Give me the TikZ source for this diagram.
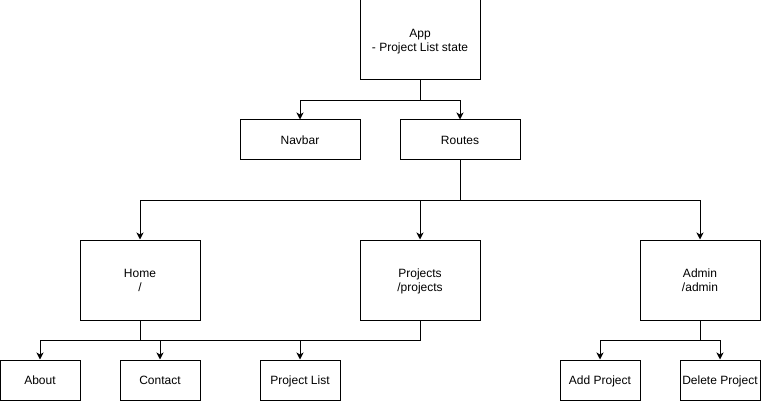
\documentclass[tikz,border=0pt]{standalone}
\usepackage{fontspec}
\setmainfont{Liberation Sans}
\usetikzlibrary{arrows.meta}
\newcommand{\topstr}{\rule{0pt}{12pt}}
\newcommand{\botstr}{\rule[-2.6pt]{0pt}{2.6pt}}
\begin{document}
\begin{tikzpicture}[x=1pt,y=-1pt,
  box/.style={draw=black,line width=1pt,fill=white,align=center,inner sep=0pt,
    font=\fontsize{12}{14.5}\selectfont},
  big/.style={box,minimum width=120pt,minimum height=80pt},
  wide/.style={box,minimum width=120pt,minimum height=40pt,text height=10pt,text depth=1.2pt},
  small/.style={box,minimum width=80pt,minimum height=40pt,text height=10pt,text depth=1.2pt},
  link/.style={draw=black,line width=1pt},
  arr/.style={link,-{Stealth[length=7pt,width=7pt,inset=2pt]}}]
\useasboundingbox (0,0) rectangle (761,401);
\node[big] (app) at (420,40) {\topstr App\\- Project List state\botstr};
\node[wide] (navbar) at (300,140) {Navbar};
\node[wide] (routes) at (460,140) {Routes};
\node[big] (home) at (140,280) {\topstr Home\\/\botstr};
\node[big] (projects) at (420,280) {\topstr Projects\\/projects\botstr};
\node[big] (admin) at (700,280) {\topstr Admin\\/admin\botstr};
\node[small] (about) at (40,380) {About};
\node[small] (contact) at (160,380) {Contact};
\node[small] (plist) at (300,380) {Project List};
\node[small] (addp) at (600,380) {Add Project};
\node[small] (delp) at (720,380) {Delete Project};
% App
\draw[link] (app.south) -- ++(0,20) coordinate (ab);
\draw[arr] (ab) -| (navbar);
\draw[arr] (ab) -| (routes);
% Routes
\draw[link] (routes.south) -- ++(0,40) coordinate (rb);
\draw[arr] (rb) -| (home);
\draw[arr] (rb) -| (projects);
\draw[arr] (rb) -| (admin);
% Home / Projects
\draw[link] (home.south) -- ++(0,20) coordinate (hb);
\draw[link] (projects.south) -- ++(0,20) coordinate (pb);
\draw[link] (hb) -- (pb);
\draw[arr] (hb) -| (about);
\draw[arr] (hb) -| (contact);
\draw[arr] (pb) -| (plist);
% Admin
\draw[link] (admin.south) -- ++(0,20) coordinate (db);
\draw[arr] (db) -| (addp);
\draw[arr] (db) -| (delp);
\end{tikzpicture}
\end{document}
